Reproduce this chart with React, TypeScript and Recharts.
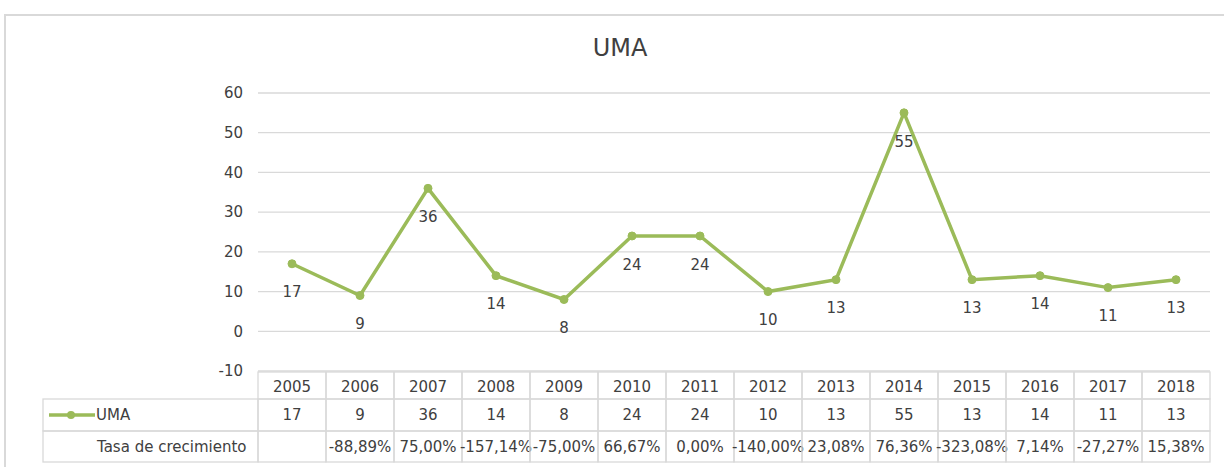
import React from 'react';
import { LineChart, Line, XAxis, YAxis, CartesianGrid, LabelList } from 'recharts';

const years = ['2005', '2006', '2007', '2008', '2009', '2010', '2011', '2012', '2013', '2014', '2015', '2016', '2017', '2018'];
const umaValues = [17, 9, 36, 14, 8, 24, 24, 10, 13, 55, 13, 14, 11, 13];
const growthLabels = ['', '-88,89%', '75,00%', '-157,14%', '-75,00%', '66,67%', '0,00%', '-140,00%', '23,08%', '76,36%', '-323,08%', '7,14%', '-27,27%', '15,38%'];
const yTicks = [-10, 0, 10, 20, 30, 40, 50, 60];
const seriesName = 'UMA';
const growthName = 'Tasa de crecimiento';
const titleText = 'UMA';

const data = years.map((y, i) => ({ year: y, uma: umaValues[i], growth: growthLabels[i] }));

const W = 1224;
const H = 467;
const MARGIN = { top: 93, right: 14, bottom: 0, left: 198 };
const YAXIS_W = 60;
const XAXIS_H = 96;
const PLOT_W = W - MARGIN.left - YAXIS_W - MARGIN.right;
const CELL_W = PLOT_W / years.length;
const FONT = "'DejaVu Sans', sans-serif";
const TXT = '#404040';
const GRID = '#d9d9d9';
const GREEN = '#9BBB59';
const FS = 15;

const TableTick = (props: any) => {
  const { x, y, payload, index } = props;
  const i = payload?.index ?? index;
  const x0 = x - CELL_W / 2;
  const r0 = y + 1;
  const r1 = y + 28;
  const r2 = y + 60;
  const r3 = y + 91;
  const legendLeft = 43;
  return (
    <g>
      <rect x={x0} y={r0} width={CELL_W} height={r1 - r0} fill="none" stroke={GRID} strokeWidth={1.3} />
      <rect x={x0} y={r1} width={CELL_W} height={r2 - r1} fill="none" stroke={GRID} strokeWidth={1.3} />
      <rect x={x0} y={r2} width={CELL_W} height={r3 - r2} fill="none" stroke={GRID} strokeWidth={1.3} />
      <text x={x} y={(r0 + r1) / 2 + 1} textAnchor="middle" dominantBaseline="central" fontFamily={FONT} fontSize={FS} fill={TXT}>
        {payload.value}
      </text>
      <text x={x} y={(r1 + r2) / 2} textAnchor="middle" dominantBaseline="central" fontFamily={FONT} fontSize={FS} fill={TXT}>
        {umaValues[i]}
      </text>
      <text x={x} y={(r2 + r3) / 2} textAnchor="middle" dominantBaseline="central" fontFamily={FONT} fontSize={FS} fill={TXT}>
        {growthLabels[i]}
      </text>
      {i === 0 && (
        <g>
          <rect x={legendLeft} y={r1} width={x0 - legendLeft} height={r2 - r1} fill="none" stroke={GRID} strokeWidth={1.3} />
          <rect x={legendLeft} y={r2} width={x0 - legendLeft} height={r3 - r2} fill="none" stroke={GRID} strokeWidth={1.3} />
          <line x1={49} x2={95} y1={(r1 + r2) / 2} y2={(r1 + r2) / 2} stroke={GREEN} strokeWidth={3.5} />
          <circle cx={71} cy={(r1 + r2) / 2} r={4} fill={GREEN} />
          <text x={96} y={(r1 + r2) / 2} dominantBaseline="central" fontFamily={FONT} fontSize={FS} fill={TXT}>
            {seriesName}
          </text>
          <text x={97} y={(r2 + r3) / 2} dominantBaseline="central" fontFamily={FONT} fontSize={FS} fill={TXT}>
            {growthName}
          </text>
        </g>
      )}
    </g>
  );
};

export default function App() {
  return (
    <div style={{ position: 'absolute', left: 0, top: 0, width: W, height: H, overflow: 'hidden', background: '#fff' }}>
      <div
        style={{
          position: 'absolute',
          left: 4,
          top: 14,
          width: W + 20,
          height: H + 20,
          border: `2px solid ${GRID}`,
          boxSizing: 'border-box',
        }}
      />
      <div
        style={{
          position: 'absolute',
          left: 0,
          top: 33,
          width: 1240,
          textAlign: 'center',
          fontFamily: FONT,
          fontSize: 24,
          color: '#404040',
          lineHeight: '30px',
        }}
      >
        {titleText}
      </div>
      <div style={{ position: 'absolute', left: 0, top: 0 }}>
        <LineChart width={W} height={H} data={data} margin={MARGIN}>
          <CartesianGrid vertical={false} stroke={GRID} strokeWidth={1.3} />
          <XAxis
            dataKey="year"
            axisLine={false}
            tickLine={false}
            tickSize={0}
            tickMargin={0}
            height={XAXIS_H}
            interval={0}
            padding={{ left: CELL_W / 2, right: CELL_W / 2 }}
            tick={<TableTick />}
          />
          <YAxis
            domain={[-10, 60]}
            ticks={yTicks}
            axisLine={false}
            tickLine={false}
            tickSize={0}
            tickMargin={15}
            width={YAXIS_W}
            tick={{ fontFamily: FONT, fontSize: FS, fill: TXT }}
            interval={0}
          />
          <Line
            type="linear"
            dataKey="uma"
            stroke={GREEN}
            strokeWidth={3.5}
            dot={{ r: 4, fill: GREEN, stroke: GREEN, strokeWidth: 1 }}
            isAnimationActive={false}
          >
            <LabelList dataKey="uma" position="bottom" offset={23} fontFamily={FONT} fontSize={FS} fill={TXT} />
          </Line>
        </LineChart>
      </div>
    </div>
  );
}
